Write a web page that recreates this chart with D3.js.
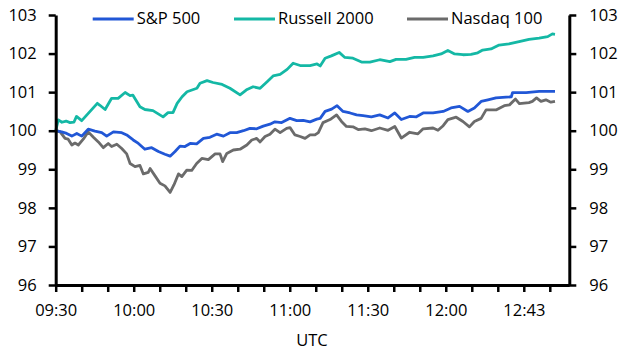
<!DOCTYPE html>
<html><head><meta charset="utf-8">
<script src="https://cdn.jsdelivr.net/npm/d3@7"></script>
<style>
body{margin:0;background:#fff}
svg{display:block}
text{font-family:"Open Sans",sans-serif;fill:#000}
</style>
</head><body>
<svg id="chart" width="632" height="357"></svg>
<script>
// ---- data (minutes after 09:30, index level) ----
const seriesNames = ["S&P 500", "Russell 2000", "Nasdaq 100"];
const yTicks = [96, 97, 98, 99, 100, 101, 102, 103];
const xTickMinutes = [0,10,20,30,40,50,60,70,80,90,100,110,120,130,140,150,160,170,180,190];
const xTickLabels = ["09:30", "10:00", "10:30", "11:00", "11:30", "12:00", "12:43"];
const xAxisTitle = "UTC";

const spMinutes = [0,2.3,4.2,6.2,8.1,10,12.5,15.1,17.7,19.6,22.2,25.4,27.3,29.8,31.8,34.3,36.9,39.5,42,44,45.9,47.8,49.7,51.7,54.2,56.8,59.3,61.9,64.5,67,69.6,72.2,74.7,77.3,79.8,82.4,84.3,86.9,90.1,92.7,95.2,97.8,100.4,101.7,103.6,106.1,108.2,110.5,113.2,115.7,118.2,121.4,124.6,127.8,130.4,132.9,136.1,138.7,141.3,145.1,149,152,155.3,158.5,161,163.6,166.2,169.3,173.2,175.2,175.7,180.9,185.9,192];
const spValues  = [100.0,99.97,99.93,99.86,99.93,99.86,100.04,99.99,99.95,99.86,99.97,99.95,99.89,99.76,99.67,99.52,99.56,99.46,99.39,99.34,99.46,99.6,99.59,99.67,99.66,99.8,99.83,99.91,99.86,99.95,99.95,100.0,100.06,100.05,100.12,100.17,100.23,100.21,100.32,100.26,100.27,100.23,100.3,100.32,100.5,100.56,100.65,100.5,100.46,100.41,100.39,100.36,100.41,100.33,100.46,100.29,100.37,100.36,100.46,100.46,100.5,100.59,100.63,100.5,100.59,100.76,100.8,100.85,100.87,100.88,100.99,100.99,101.02,101.02];

const rutMinutes = [0,1,2.4,4,5.5,7,8,10,12,16,17,19,21.5,24,26.7,28.6,29.7,32.4,34.3,37.4,41.3,43.2,45.1,46.7,48.6,50.5,54.3,55.5,58.2,60.5,64,67,70.9,73.6,75.9,78.6,81.3,83.6,86.3,89,91.3,94,97.8,100.5,101.7,103.6,106,109,111.2,114.3,117.6,120.8,124.6,128.5,130.9,134.7,138,141.3,145.1,148.2,150.8,153.4,156.6,159.7,162.3,164.2,167.4,170.5,174.3,178.2,182,185.9,189.2,191,192];
const rutValues  = [100.0,100.28,100.22,100.25,100.21,100.22,100.37,100.26,100.41,100.71,100.66,100.55,100.84,100.84,100.99,100.91,100.92,100.62,100.55,100.52,100.36,100.47,100.47,100.71,100.88,101.01,101.1,101.23,101.3,101.25,101.2,101.1,100.93,101.07,101.14,101.1,101.27,101.42,101.46,101.59,101.75,101.69,101.69,101.73,101.68,101.88,101.94,102.03,101.9,101.88,101.78,101.78,101.84,101.79,101.85,101.85,101.9,101.9,101.94,101.99,102.08,101.99,101.97,101.98,102.02,102.09,102.12,102.22,102.25,102.31,102.37,102.4,102.44,102.51,102.5];

const ndxMinutes = [0,1.7,3.6,4.8,6.2,7.4,8.7,10.6,12.5,14.5,16.4,18.3,20.2,21.5,23.5,25.4,27.3,28.6,30.5,32.4,33.7,35.6,36.3,38.2,40.1,42,44,45.5,47.2,48.5,50.4,52.3,54.2,56.2,58.7,61.3,63.2,64.2,65.8,68.3,70.9,73.5,75.4,77.3,78.6,80.5,82.4,84.3,86.3,88.8,90.1,92,94,95.9,97.8,99.7,101,102.8,105.5,108,109.9,111.8,114.3,116.3,118.9,121.4,124.6,127.8,130.4,132.9,136.1,139.3,141.3,145.1,147,149,150.8,154,156.6,159.1,161,163.6,165.5,169.3,172.5,174.5,176.8,178.3,182,183.3,184.9,186.6,188.5,190.4,192];
const ndxValues  = [100.0,99.97,99.8,99.78,99.63,99.68,99.63,99.78,99.97,99.83,99.71,99.56,99.67,99.59,99.65,99.54,99.4,99.15,99.07,99.1,98.88,98.92,99.02,98.83,98.64,98.57,98.4,98.6,98.88,98.81,98.98,98.97,99.15,99.28,99.25,99.4,99.4,99.2,99.41,99.5,99.52,99.63,99.76,99.8,99.71,99.85,99.91,100.04,99.95,100.06,100.08,99.89,99.85,99.8,99.89,99.89,99.95,100.21,100.29,100.41,100.24,100.11,100.1,100.03,100.05,100.0,100.07,100.01,100.11,99.81,99.96,99.92,100.05,100.07,100.01,100.13,100.29,100.35,100.24,100.1,100.24,100.32,100.54,100.54,100.65,100.67,100.82,100.7,100.73,100.76,100.85,100.76,100.8,100.74,100.76];

// ---- drawing ----
const svg = d3.select("#chart");
const pLeft = 55.7, pRight = 569.3, pTop = 15, pBottom = 285;
const x = d3.scaleLinear().domain([0, 197.5]).range([pLeft, pRight]);
const y = d3.scaleLinear().domain([96, 103]).range([pBottom, pTop]);
const fs = 16.5;

const series = [
  {name: seriesNames[0], m: spMinutes, v: spValues, color: "#2157D6"},
  {name: seriesNames[1], m: rutMinutes, v: rutValues, color: "#14B8A5"},
  {name: seriesNames[2], m: ndxMinutes, v: ndxValues, color: "#6B6B6B"}
];

const line = d3.line().x(d => x(d[0])).y(d => y(d[1]));
[2, 0, 1].forEach(i => {
  const s = series[i];
  svg.append("path")
    .datum(s.m.map((m, j) => [m, s.v[j]]))
    .attr("fill", "none")
    .attr("stroke", s.color)
    .attr("stroke-width", 2.8)
    .attr("stroke-linejoin", "round")
    .attr("d", line);
});

function styleAxis(g) {
  g.selectAll("path.domain").attr("stroke", "#000").attr("stroke-width", 3);
  g.selectAll(".tick line").attr("stroke", "#000").attr("stroke-width", 2.5);
  g.selectAll(".tick text").style("font-size", fs + "px").attr("fill", "#000")
    .style("font-family", "'Open Sans', sans-serif");
}

const yAxisL = d3.axisLeft(y).tickValues(yTicks).tickFormat(d3.format("d"))
  .tickSize(7).tickSizeOuter(0).tickPadding(12);
svg.append("g").attr("transform", `translate(${pLeft},0)`).call(yAxisL).call(styleAxis);

const yAxisR = d3.axisRight(y).tickValues(yTicks).tickFormat(d3.format("d"))
  .tickSize(7).tickSizeOuter(0).tickPadding(13);
svg.append("g").attr("transform", `translate(${pRight},0)`).call(yAxisR).call(styleAxis);

const xAxis = d3.axisBottom(x).tickValues(xTickMinutes)
  .tickFormat((d, i) => i % 3 === 0 ? xTickLabels[i / 3] : "")
  .tickSize(7).tickSizeOuter(0).tickPadding(12);
svg.append("g").attr("transform", `translate(0,${pBottom})`).call(xAxis).call(styleAxis);

svg.append("text").attr("x", 312).attr("y", 346).attr("text-anchor", "middle")
  .style("font-size", fs + "px").text(xAxisTitle);

// legend
const legendX = [92.7, 234, 407];
series.forEach((s, i) => {
  const g = svg.append("g").attr("transform", `translate(${legendX[i]},19)`);
  g.append("line").attr("x1", 0).attr("x2", 41).attr("y1", 0).attr("y2", 0)
    .attr("stroke", s.color).attr("stroke-width", 3);
  g.append("text").attr("x", 44).attr("y", 0).attr("dy", "0.32em")
    .style("font-size", fs + "px").text(s.name);
});
</script>
</body></html>
